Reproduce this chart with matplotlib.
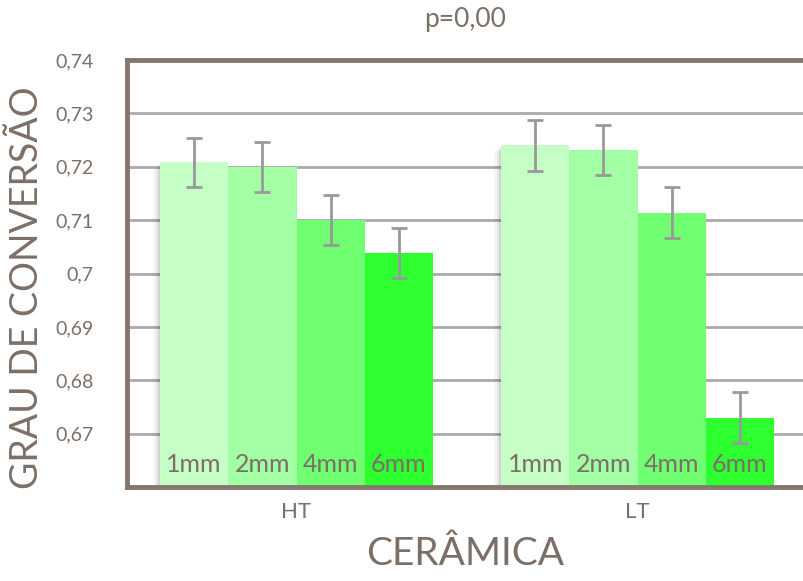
import matplotlib
matplotlib.use("Agg")
import matplotlib.pyplot as plt
import matplotlib.patheffects as pe
import numpy as np

GROUPS = ["HT", "LT"]
THICKNESS = ["1mm", "2mm", "4mm", "6mm"]
MEANS = {
    "HT": [0.7208, 0.7200, 0.7100, 0.7038],
    "LT": [0.7240, 0.7232, 0.7114, 0.6730],
}
ERRORS = {
    "HT": [0.0046, 0.0047, 0.0047, 0.0047],
    "LT": [0.0048, 0.0047, 0.0048, 0.0048],
}
Y_TICKS = [0.67, 0.68, 0.69, 0.70, 0.71, 0.72, 0.73, 0.74]
Y_TICK_LABELS = ["0,67", "0,68", "0,69", "0,7", "0,71", "0,72", "0,73", "0,74"]

BAR_COLORS = ["#C6FFC6", "#A3FFA3", "#70FF70", "#2EFF2E"]
TEXT_COLOR = "#7B6F67"
SPINE_COLOR = "#85776D"
GRID_COLOR = "#AAAAAA"
ERR_COLOR = "#999999"
BASE = 0.66

plt.rcParams["font.family"] = ["Lato", "DejaVu Sans"]


def main() -> None:
    fig = plt.figure(figsize=(8.04, 5.81), dpi=100)
    ax = fig.add_axes([127 / 804, 1 - 487 / 581, 1 - 127 / 804, (487 - 60) / 581])

    width = 0.2
    offsets = (np.arange(len(THICKNESS)) - 1.5) * width

    # soft-ish drop shadow: a few faint offset copies under the bars
    shadow = [
        pe.SimplePatchShadow(offset=(-5, -4), shadow_rgbFace="black", alpha=0.04),
        pe.SimplePatchShadow(offset=(-3, -3), shadow_rgbFace="black", alpha=0.06),
        pe.SimplePatchShadow(offset=(-1.5, -1.5), shadow_rgbFace="black", alpha=0.08),
        pe.Normal(),
    ]

    for gi, group in enumerate(GROUPS):
        xs = gi + offsets
        heights = np.array(MEANS[group]) - BASE
        ax.bar(xs, heights, width=width, bottom=BASE, color="white", zorder=1.5,
               path_effects=shadow)
        ax.bar(xs, heights, width=width, bottom=BASE, color=BAR_COLORS, zorder=2)
        ax.errorbar(xs, MEANS[group], yerr=ERRORS[group], fmt="none", ecolor=ERR_COLOR,
                    elinewidth=2, capsize=6, capthick=2, zorder=3)
        for x, lab in zip(xs, THICKNESS):
            ax.text(x, 0.6643, lab, ha="center", va="center", fontsize=18,
                    color=TEXT_COLOR, zorder=4)

    ax.set_xlim(-0.497, 1.488)
    ax.set_ylim(BASE, 0.74)
    ax.set_yticks(Y_TICKS)
    ax.set_yticklabels(Y_TICK_LABELS)
    ax.set_xticks(range(len(GROUPS)))
    ax.set_xticklabels(GROUPS)
    ax.tick_params(axis="both", length=0, colors=TEXT_COLOR)
    ax.tick_params(axis="y", pad=24, labelsize=14)
    ax.tick_params(axis="x", pad=11, labelsize=16)

    ax.grid(axis="y", color=GRID_COLOR, linewidth=2, zorder=1)
    ax.set_axisbelow(True)

    for side in ["left", "top", "bottom"]:
        ax.spines[side].set_color(SPINE_COLOR)
        ax.spines[side].set_linewidth(3.5)
        ax.spines[side].set_zorder(5)
    ax.spines["right"].set_visible(False)

    fig.text(465 / 804, 1 - 19 / 581, "p=0,00", ha="center", va="center",
             fontsize=19, color=TEXT_COLOR)
    fig.text(27 / 804, 1 - 288 / 581, "GRAU DE CONVERSÃO", ha="center", va="center",
             rotation=90, fontsize=27, color=TEXT_COLOR)
    ax.set_xlabel("CERÂMICA", fontsize=28, color=TEXT_COLOR, labelpad=10)

    fig.savefig("out.png", dpi=100)


if __name__ == "__main__":
    main()
